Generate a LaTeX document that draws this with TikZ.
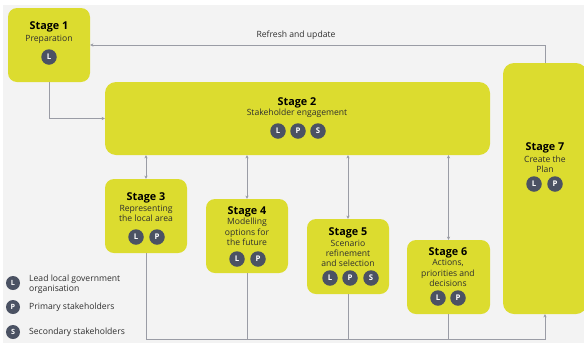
\documentclass[tikz,border=0pt]{standalone}
\usepackage{fontspec}
\setmainfont{Open Sans}
\usetikzlibrary{arrows.meta}
\definecolor{bgray}{HTML}{F3F3F3}
\definecolor{stagey}{HTML}{DCDC2F}
\definecolor{badgec}{HTML}{4B5263}
\definecolor{linec}{HTML}{9A9CA5}
\definecolor{subc}{HTML}{2E2E2E}
\tikzset{
  stagebox/.style={fill=stagey, rounded corners=9pt, inner sep=0pt, draw=none},
  ttl/.style={font=\fontsize{10.8}{11}\selectfont\bfseries, text=black, inner sep=0pt},
  sub/.style={font=\fontsize{8.6}{10.3}\selectfont, text=subc, align=center, inner sep=0pt},
  badge/.style={circle, fill=badgec, minimum size=15.5pt, inner sep=0pt, text=white, font=\fontsize{7.8}{8}\selectfont\bfseries},
  lbadge/.style={badge, minimum size=14pt, font=\fontsize{7.2}{8}\selectfont\bfseries},
  conn/.style={draw=linec, line width=0.9pt},
  tip/.style={-{Stealth[length=3.2pt,width=3.2pt]}},
  dtip/.style={{Stealth[length=3.2pt,width=3.2pt]}-{Stealth[length=3.2pt,width=3.2pt]}},
  lgd/.style={font=\fontsize{8.6}{10.3}\selectfont, text=subc, align=left, anchor=west, inner sep=0pt},
}
\begin{document}
\begin{tikzpicture}[x=1pt,y=-1pt]
\useasboundingbox (0,0) rectangle (584,346);
\fill[white] (0,0) rectangle (584,346);
\fill[bgray] (3,5) rectangle (584,343);
\begin{scope}
\clip (0,0) rectangle (584,346);
% boxes
\node[stagebox, minimum width=82pt, minimum height=74pt] (s1) at (49,45) {};
\node[stagebox, minimum width=385pt, minimum height=73pt, rounded corners=11pt] (s2) at (297.5,118.5) {};
\node[stagebox, minimum width=82pt, minimum height=74pt] (s3) at (146,216) {};
\node[stagebox, minimum width=82pt, minimum height=74pt] (s4) at (247,236) {};
\node[stagebox, minimum width=82pt, minimum height=75pt] (s5) at (348,256.5) {};
\node[stagebox, minimum width=83pt, minimum height=74pt] (s6) at (448.5,277) {};
\node[stagebox, minimum width=84pt, minimum height=251pt, rounded corners=11pt] (s7) at (545,188.5) {};
\end{scope}
% texts
\node[ttl] (t1) at (49,27) {Stage 1};
\node[sub] (d1) at (49,39) {Preparation};
\node[badge] (b1l) at (49,57) {L};

\node[ttl] (t2) at (297,103) {Stage 2};
\node[sub] (d2) at (297,113.5) {Stakeholder engagement};
\node[badge] (b2l) at (278,131) {L};
\node[badge] (b2p) at (298,131) {P};
\node[badge] (b2s) at (318,131) {S};

\node[ttl] (t3) at (146,198) {Stage 3};
\node[sub] (d3) at (146,213.5) {Representing\\the local area};
\node[badge] (b3l) at (136,237) {L};
\node[badge] (b3p) at (157,237) {P};

\node[ttl] (t4) at (247,212) {Stage 4};
\node[sub] (d4) at (247,232) {Modelling\\options for\\the future};
\node[badge] (b4l) at (237,259) {L};
\node[badge] (b4p) at (258,259) {P};

\node[ttl] (t5) at (348,233) {Stage 5};
\node[sub] (d5) at (348,253.5) {Scenario\\refinement\\and selection};
\node[badge] (b5l) at (330,278) {L};
\node[badge] (b5p) at (350,278) {P};
\node[badge] (b5s) at (371,278) {S};

\node[ttl] (t6) at (448,253) {Stage 6};
\node[sub] (d6) at (448,273) {Actions,\\priorities and\\decisions};
\node[badge] (b6l) at (438,298) {L};
\node[badge] (b6p) at (458,298) {P};

\node[ttl] (t7) at (545,148) {Stage 7};
\node[sub] (d7) at (545,164) {Create the\\Plan};
\node[badge] (b7l) at (534,184) {L};
\node[badge] (b7p) at (555,184) {P};

% connectors
\node[sub] (refresh) at (296,35) {Refresh and update};
\draw[conn, tip] (s7.north) |- (s1.east);
\draw[conn, tip] (s1.south) |- (s2.west);
\draw[conn, dtip] (s2.south -| s3.north) -- (s3.north);
\draw[conn, dtip] (s2.south -| s4.north) -- (s4.north);
\draw[conn, dtip] (s2.south -| s5.north) -- (s5.north);
\draw[conn, dtip] (s2.south -| s6.north) -- (s6.north);
\coordinate (bus) at (0,339);
\draw[conn, tip] (s3.south) |- (s7.south |- bus) -- (s7.south);
\draw[conn] (s4.south) -- (s4.south |- bus);
\draw[conn] (s5.south) -- (s5.south |- bus);
\draw[conn] (s6.south) -- (s6.south |- bus);

% legend
\node[lbadge] (lgl) at (13,283) {L};
\node[lbadge] (lgp) at (13,307) {P};
\node[lbadge] (lgs) at (13,332) {S};
\node[lgd] (lgtl) at (29,284) {Lead local government\\organisation};
\node[lgd] (lgtp) at (29,307) {Primary stakeholders};
\node[lgd] (lgts) at (29,332) {Secondary stakeholders};
\end{tikzpicture}
\end{document}
